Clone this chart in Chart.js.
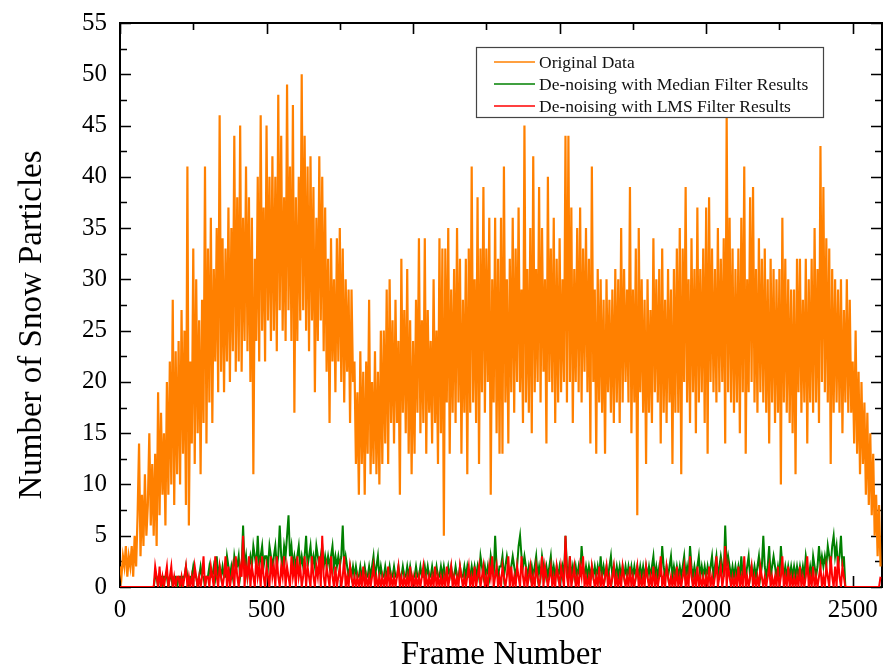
<!DOCTYPE html>
<html>
<head>
<meta charset="utf-8">
<title>Snow particle counts</title>
<script src="https://cdn.jsdelivr.net/npm/chart.js@4.4.1/dist/chart.umd.min.js"></script>
<style>
  html, body { margin: 0; padding: 0; background: #fff; }
  #chart { display: block; }
</style>
</head>
<body>
<canvas id="chart" width="883" height="671"></canvas>
<script>
// one sample every FRAME_STEP frames
const FRAME_STEP = 5;
const X_MAX = 2600;
const Y_MAX = 55;
const xTickValues = [0, 500, 1000, 1500, 2000, 2500];
const yTickValues = [0, 5, 10, 15, 20, 25, 30, 35, 40, 45, 50, 55];

const seriesNames = [
    'Original Data',
    'De-noising with Median Filter Results',
    'De-noising with LMS Filter Results'
];
const seriesColors = ['#ff8000', '#008000', '#ff0000'];

// raw particle counts, 20 samples per 100 frames
const originalData = [
    2,1,3,2,4,1,3,2,4,1,5,2,7,14,3,9,4,11,5,8,
    15,6,12,5,13,4,19,7,17,9,15,6,20,9,22,10,28,8,23,11,
    24,10,27,13,25,8,41,6,22,14,33,12,30,15,26,11,28,16,41,14,
    33,18,36,16,31,22,35,19,46,21,34,19,33,22,37,20,35,23,44,21,
    38,22,45,21,36,24,41,23,38,20,36,11,32,24,40,22,46,25,37,22,
    45,26,40,24,42,25,40,23,48,27,44,25,38,24,49,27,41,24,47,17,
    38,24,40,26,50,27,44,25,41,23,42,26,39,19,36,24,42,26,40,23,
    37,21,32,16,34,22,30,19,34,22,35,20,33,18,30,21,29,16,29,20,
    22,12,19,9,23,12,21,9,22,13,28,11,20,12,23,11,21,10,25,12,
    25,14,29,12,30,16,26,14,28,16,24,9,32,17,27,15,31,13,26,11,
    24,13,28,17,34,15,26,16,34,13,27,17,24,14,30,16,25,12,34,15,
    33,5,33,18,35,13,29,17,31,16,35,18,32,13,28,17,32,11,33,17,
    41,18,30,16,38,12,33,19,39,17,33,20,36,9,30,18,36,15,32,13,
    36,13,41,18,30,14,32,19,36,17,33,20,37,19,29,16,45,18,31,17,
    35,15,42,19,31,20,39,18,35,21,30,14,40,20,33,19,36,16,32,18,
    34,19,30,20,44,18,44,20,37,16,31,20,35,19,37,18,33,21,35,19,
    32,14,41,20,29,13,31,18,30,17,28,13,30,19,28,17,29,16,31,18,
    30,16,35,18,31,20,29,18,39,15,29,18,33,7,35,19,30,17,28,12,
    30,17,27,16,34,19,30,18,31,14,33,17,28,16,31,18,29,12,31,17,
    33,17,35,11,33,20,39,18,30,16,34,19,31,15,37,18,31,19,33,16,
    37,13,38,20,33,19,31,18,35,19,32,20,34,14,46,19,36,18,33,17,
    31,18,33,15,36,19,41,13,30,19,38,20,39,18,31,17,34,19,32,18,
    33,17,30,14,32,18,31,16,30,17,31,10,36,18,32,17,30,16,29,15,
    29,11,32,19,32,17,28,18,32,14,30,18,32,17,35,18,31,16,43,20,
    39,19,34,18,33,12,31,17,30,18,29,17,30,15,27,18,30,17,28,17,
    22,14,25,13,21,11,20,12,18,9,17,8,15,7,13,5,9,3,8,2
];

// median filter output
const medianData = [
    0,0,0,0,0,0,0,0,0,0,0,0,0,0,0,0,0,0,0,0,
    0,0,0,0,1,1,0,1,1,0,1,1,1,0,1,1,0,1,1,0,
    1,1,0,1,1,2,1,0,1,1,2,1,1,0,1,2,1,1,0,1,
    1,2,1,1,2,1,3,1,2,1,2,1,1,3,2,1,2,1,3,2,
    2,3,1,2,6,2,3,1,2,3,2,4,3,2,5,2,3,4,2,3,
    3,2,4,3,2,3,4,2,3,6,3,2,4,3,5,7,3,4,2,3,
    2,3,4,2,3,2,3,5,2,3,4,2,3,2,4,3,2,3,4,2,
    3,2,3,2,3,4,2,3,2,3,2,3,6,2,3,2,1,2,1,2,
    1,2,1,1,2,1,1,2,1,1,2,1,2,3,1,2,3,1,2,1,
    1,2,1,1,2,1,1,2,1,1,2,1,1,2,1,1,2,1,2,1,
    1,1,2,1,1,2,1,1,2,1,2,1,1,2,1,1,2,1,1,2,
    1,2,1,1,2,1,2,1,1,2,1,1,2,1,1,2,1,2,1,1,
    2,1,2,1,2,1,3,2,1,2,1,2,1,3,2,1,5,2,1,2,
    2,3,1,2,3,2,1,2,3,2,1,2,4,5,3,2,3,2,1,2,
    1,2,1,2,3,1,2,1,3,2,1,2,1,2,3,1,2,1,2,1,
    2,1,2,1,5,2,1,3,1,2,1,2,1,2,1,4,2,1,2,1,
    2,1,2,1,2,1,2,1,3,1,2,1,2,1,2,3,1,2,1,2,
    1,2,1,2,1,2,1,2,1,2,1,2,1,2,1,2,1,2,1,2,
    1,2,1,2,3,1,2,1,2,1,4,2,1,2,1,2,3,1,2,1,
    2,1,2,1,2,3,1,2,1,4,2,1,2,1,2,3,1,2,1,2,
    1,2,1,2,3,1,2,3,1,2,3,2,1,6,2,3,2,1,2,1,
    2,1,2,1,3,1,2,1,2,3,1,2,1,2,1,2,3,1,2,5,
    2,1,2,4,1,2,3,2,1,2,1,4,2,1,2,1,2,1,2,1,
    2,1,2,1,2,1,2,1,3,2,1,2,1,3,2,1,2,4,2,3,
    2,3,2,4,3,2,4,5,3,4,2,3,5,2,3,0,0,0,0,0,
    0,0,0,0,0,0,0,0,0,0,0,0,0,0,0,0,0,0,0,0
];

// LMS filter output
const lmsData = [
    0,0,0,0,0,0,0,0,0,0,0,0,0,0,0,0,0,0,0,0,
    0,0,0,0,2,1,0,2,0,1,0,1,2,0,1,2,0,1,0,1,
    1,0,1,0,1,2,0,1,0,1,0,2,1,0,1,0,1,3,0,1,
    1,0,2,1,0,3,1,0,2,1,0,1,3,0,2,0,1,2,0,3,
    1,0,2,1,5,0,2,1,3,0,2,1,0,3,1,2,0,3,1,0,
    2,1,0,3,1,2,0,3,1,0,2,1,3,0,2,1,0,3,1,2,
    0,3,1,2,0,1,3,0,2,1,0,3,1,0,2,1,3,0,5,1,
    0,2,1,0,3,1,0,2,0,1,2,0,1,3,0,1,0,2,1,0,
    1,0,1,0,1,0,2,0,1,0,1,0,1,2,0,1,0,1,0,1,
    0,1,0,2,0,1,0,1,0,1,2,0,1,0,1,0,1,0,2,0,
    1,0,1,0,1,0,1,2,0,1,0,1,0,1,0,2,0,1,0,1,
    0,1,0,2,0,1,2,0,1,0,1,0,2,1,0,1,0,1,2,0,
    1,0,2,0,1,2,0,1,2,0,1,0,2,1,3,0,1,2,0,1,
    0,2,1,0,1,3,0,2,0,1,0,2,1,0,3,1,0,2,0,1,
    2,0,1,0,2,1,0,1,3,0,2,1,0,1,2,0,1,0,2,1,
    0,2,1,0,5,1,0,3,0,1,2,0,1,0,2,1,3,0,1,0,
    1,0,2,1,0,1,0,2,0,1,0,1,2,0,1,0,1,2,0,1,
    0,1,0,2,1,0,1,0,2,0,1,0,1,2,0,1,0,1,0,2,
    1,0,1,0,2,0,1,0,1,3,0,1,0,2,1,0,1,0,1,0,
    2,0,1,0,1,2,0,1,0,3,1,0,1,0,2,0,1,0,1,0,
    1,0,2,0,1,0,1,3,0,1,2,0,1,4,0,2,1,0,1,0,
    1,0,2,0,1,0,3,0,1,0,1,2,0,1,0,1,0,2,1,0,
    1,0,1,2,0,1,0,1,0,2,0,1,3,0,1,0,2,0,1,0,
    1,0,1,0,2,0,1,0,1,3,0,1,0,2,0,1,0,1,2,0,
    1,0,2,1,0,3,1,0,2,0,3,1,0,2,1,0,0,0,0,0,
    0,0,0,0,0,0,0,0,0,0,0,0,0,0,0,0,0,0,0,1
];

const toPoints = values => values.map((v, i) => ({ x: i * FRAME_STEP, y: v }));

const SERIF = '"Liberation Serif", "Times New Roman", serif';

// box around the plot with inward ticks on all four sides
const frameBox = {
    id: 'frameBox',
    beforeDatasetsDraw(chart) {
        const { ctx, chartArea: a, scales: { x, y } } = chart;
        ctx.save();
        ctx.strokeStyle = '#000';
        ctx.lineWidth = 2;
        ctx.strokeRect(a.left, a.top, a.right - a.left, a.bottom - a.top);
        ctx.lineWidth = 1.6;
        ctx.beginPath();
        for (let v = 0; v <= X_MAX; v += 250) {
            const px = Math.round(x.getPixelForValue(v)) + 0.5;
            const len = v % 500 === 0 ? 11 : 7;
            ctx.moveTo(px, a.bottom); ctx.lineTo(px, a.bottom - len);
            ctx.moveTo(px, a.top); ctx.lineTo(px, a.top + len);
        }
        for (let v = 0; v <= Y_MAX; v += 2.5) {
            const py = Math.round(y.getPixelForValue(v)) + 0.5;
            const len = v % 5 === 0 ? 11 : 7;
            ctx.moveTo(a.left, py); ctx.lineTo(a.left + len, py);
            ctx.moveTo(a.right, py); ctx.lineTo(a.right - len, py);
        }
        ctx.stroke();
        ctx.restore();
    },
    afterDraw(chart) {
        const { ctx, chartArea: a } = chart;
        ctx.save();
        ctx.fillStyle = '#000';
        ctx.font = '33px ' + SERIF;
        ctx.textAlign = 'center';
        ctx.textBaseline = 'middle';
        ctx.fillText('Frame Number', (a.left + a.right) / 2, 655);
        ctx.translate(32, 325);
        ctx.rotate(-Math.PI / 2);
        ctx.fillText('Number of Snow Particles', 0, 0);
        ctx.restore();
    }
};

// legend box in the upper right of the plot
const legendBox = {
    id: 'legendBox',
    afterDraw(chart) {
        const { ctx } = chart;
        const box = { left: 476, top: 47, width: 347, height: 70 };
        ctx.save();
        ctx.fillStyle = '#fff';
        ctx.fillRect(box.left, box.top, box.width, box.height);
        ctx.strokeStyle = '#444';
        ctx.lineWidth = 1.2;
        ctx.strokeRect(box.left + 0.5, box.top + 0.5, box.width, box.height);
        ctx.font = '17.5px ' + SERIF;
        ctx.textBaseline = 'middle';
        chart.data.datasets.slice().sort((p, q) => p.legendIndex - q.legendIndex).forEach((ds, i) => {
            const rowY = box.top + 15 + i * 22;
            ctx.strokeStyle = ds.borderColor;
            ctx.lineWidth = 1.6;
            ctx.beginPath();
            ctx.moveTo(box.left + 18, rowY);
            ctx.lineTo(box.left + 59, rowY);
            ctx.stroke();
            ctx.fillStyle = '#111';
            ctx.fillText(ds.label, box.left + 63, rowY + 1);
        });
        ctx.restore();
    }
};

const makeDataset = (values, idx, width) => ({
    label: seriesNames[idx],
    legendIndex: idx,
    data: toPoints(values),
    borderColor: seriesColors[idx],
    borderWidth: width,
    borderJoinStyle: 'miter',
    pointRadius: 0,
    tension: 0,
    fill: false,
    // later series are drawn on top
    order: 3 - idx
});

new Chart(document.getElementById('chart'), {
    type: 'line',
    data: {
        datasets: [
            makeDataset(originalData, 0, 2.2),
            makeDataset(medianData, 1, 2),
            makeDataset(lmsData, 2, 2)
        ]
    },
    options: {
        responsive: false,
        animation: false,
        devicePixelRatio: 1,
        layout: { padding: { top: 23, right: 1, left: 0, bottom: 0 } },
        plugins: { legend: { display: false }, tooltip: { enabled: false } },
        scales: {
            x: {
                type: 'linear',
                min: 0,
                max: X_MAX,
                grid: { display: false, drawTicks: false },
                border: { display: false },
                afterBuildTicks: scale => { scale.ticks = xTickValues.map(v => ({ value: v })); },
                afterFit: scale => {
                    scale.height = 84;
                    scale.paddingLeft = 0;
                    scale.paddingRight = 0;
                },
                ticks: {
                    color: '#000',
                    padding: 8,
                    maxRotation: 0,
                    callback: v => String(v),
                    font: { family: SERIF, size: 25 }
                }
            },
            y: {
                min: 0,
                max: Y_MAX,
                grid: { display: false, drawTicks: false },
                border: { display: false },
                afterBuildTicks: scale => { scale.ticks = yTickValues.map(v => ({ value: v })); },
                afterFit: scale => {
                    scale.width = 120;
                    scale.paddingTop = 0;
                    scale.paddingBottom = 0;
                },
                ticks: {
                    color: '#000',
                    padding: 13,
                    callback: v => String(v),
                    font: { family: SERIF, size: 25 }
                }
            }
        }
    },
    plugins: [frameBox, legendBox]
});
</script>
</body>
</html>
